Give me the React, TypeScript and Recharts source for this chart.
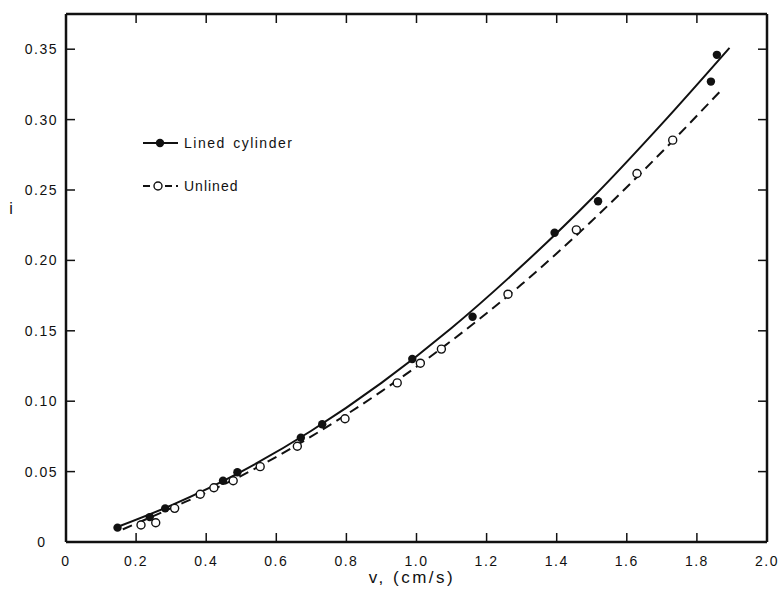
import React from 'react';
import { ComposedChart, Line, Scatter, XAxis, YAxis } from 'recharts';

// ---- tick values & labels ----
const xTicks = [0, 0.2, 0.4, 0.6, 0.8, 1.0, 1.2, 1.4, 1.6, 1.8, 2.0];
const xTickLabels = ['0', '0.2', '0.4', '0.6', '0.8', '1.0', '1.2', '1.4', '1.6', '1.8', '2.0'];
const yTicks = [0, 0.05, 0.1, 0.15, 0.2, 0.25, 0.3, 0.35];
const yTickLabels = ['0', '0.05', '0.10', '0.15', '0.20', '0.25', '0.30', '0.35'];

// ---- measured points: lined cylinder (filled) ----
const linedV = [0.147, 0.239, 0.283, 0.448, 0.489, 0.670, 0.731, 0.988, 1.160, 1.394, 1.518, 1.840, 1.857];
const linedI = [0.0102, 0.0177, 0.0239, 0.0435, 0.0495, 0.074, 0.0836, 0.130, 0.160, 0.2196, 0.242, 0.327, 0.346];

// ---- measured points: unlined (open) ----
const unlinedV = [0.214, 0.256, 0.310, 0.383, 0.422, 0.477, 0.554, 0.660, 0.796, 0.945, 1.011, 1.071, 1.261, 1.456, 1.629, 1.731];
const unlinedI = [0.0121, 0.0137, 0.0239, 0.0339, 0.0385, 0.0435, 0.0535, 0.068, 0.0875, 0.113, 0.127, 0.137, 0.176, 0.2217, 0.2617, 0.2854];

// ---- fitted curves ----
const linedCurveV = [0.15, 0.3, 0.5, 0.7, 0.9, 1.1, 1.3, 1.5, 1.7, 1.893];
const linedCurveI = [0.011, 0.026, 0.050, 0.079, 0.113, 0.152, 0.196, 0.244, 0.297, 0.351];
const unlinedCurveV = [0.162, 0.3, 0.5, 0.7, 0.9, 1.1, 1.3, 1.5, 1.7, 1.866];
const unlinedCurveI = [0.009, 0.024, 0.047, 0.075, 0.107, 0.143, 0.183, 0.228, 0.277, 0.320];

const zip = (vs: number[], is: number[]) => vs.map((v, k) => ({ v, i: is[k] }));
const linedPts = zip(linedV, linedI);
const unlinedPts = zip(unlinedV, unlinedI);
const linedCurve = zip(linedCurveV, linedCurveI);
const unlinedCurve = zip(unlinedCurveV, unlinedCurveI);

const FONT = '"Liberation Sans", Arial, sans-serif';
const INK = '#111';

const BottomTick = (p: any) => {
  const idx = xTicks.indexOf(p.payload.value);
  return (
    <g>
      <line x1={p.x} y1={p.y} x2={p.x} y2={p.y - 9} stroke={INK} strokeWidth={1.5} />
      <text x={p.x} y={p.y + 19} textAnchor="middle" dominantBaseline="central"
        fontFamily={FONT} fontSize={14} letterSpacing={1.5} fill={INK}>
        {xTickLabels[idx]}
      </text>
    </g>
  );
};
const TopTick = (p: any) => (
  <line x1={p.x} y1={p.y} x2={p.x} y2={p.y + 9} stroke={INK} strokeWidth={1.5} />
);
const LeftTick = (p: any) => {
  const idx = yTicks.indexOf(p.payload.value);
  const isZero = p.payload.value === 0;
  return (
    <g>
      <line x1={p.x} y1={p.y} x2={p.x + 9} y2={p.y} stroke={INK} strokeWidth={1.5} />
      <text x={isZero ? p.x - 24 : p.x - 8} y={p.y} textAnchor={isZero ? 'middle' : 'end'}
        dominantBaseline="central" fontFamily={FONT} fontSize={14} letterSpacing={1.5} fill={INK}>
        {yTickLabels[idx]}
      </text>
    </g>
  );
};
const RightTick = (p: any) => (
  <line x1={p.x} y1={p.y} x2={p.x - 9} y2={p.y} stroke={INK} strokeWidth={1.5} />
);

const FilledDot = (p: any) => <circle cx={p.cx} cy={p.cy} r={4.2} fill={INK} />;
const OpenDot = (p: any) => (
  <circle cx={p.cx} cy={p.cy} r={4} fill="#fff" stroke={INK} strokeWidth={1.4} />
);

export default function App() {
  return (
    <div style={{ position: 'absolute', left: 0, top: 0, width: 778, height: 591, background: '#fff' }}>
      <ComposedChart width={778} height={591} margin={{ top: 13, right: 10, bottom: 48, left: 65 }}>
        <XAxis xAxisId="b" type="number" dataKey="v" domain={[0, 2]} ticks={xTicks} interval={0}
          orientation="bottom" height={1} tickSize={0} tickMargin={0} tickLine={false}
          tick={BottomTick} axisLine={{ stroke: INK, strokeWidth: 2.5 }} allowDataOverflow />
        <XAxis xAxisId="t" type="number" dataKey="v" domain={[0, 2]} ticks={xTicks.slice(1, 10)} interval={0}
          orientation="top" height={1} tickSize={0} tickMargin={0} tickLine={false}
          tick={TopTick} axisLine={{ stroke: INK, strokeWidth: 2.5 }} allowDataOverflow />
        <YAxis yAxisId="l" type="number" dataKey="i" domain={[0, 0.375]} ticks={yTicks} interval={0}
          orientation="left" width={1} tickSize={0} tickMargin={0} tickLine={false}
          tick={LeftTick} axisLine={{ stroke: INK, strokeWidth: 2.5 }} allowDataOverflow />
        <YAxis yAxisId="r" type="number" dataKey="i" domain={[0, 0.375]} ticks={yTicks.slice(1)} interval={0}
          orientation="right" width={1} tickSize={0} tickMargin={0} tickLine={false}
          tick={RightTick} axisLine={{ stroke: INK, strokeWidth: 2.5 }} allowDataOverflow />

        <Line xAxisId="b" yAxisId="l" data={linedCurve} dataKey="i" type="monotone" stroke={INK}
          strokeWidth={2} dot={false} activeDot={false} isAnimationActive={false} />
        <Line xAxisId="b" yAxisId="l" data={unlinedCurve} dataKey="i" type="monotone" stroke={INK}
          strokeWidth={2} strokeDasharray="10 6" dot={false} activeDot={false} isAnimationActive={false} />
        <Scatter xAxisId="b" yAxisId="l" data={unlinedPts} dataKey="i" shape={OpenDot} isAnimationActive={false} />
        <Scatter xAxisId="b" yAxisId="l" data={linedPts} dataKey="i" shape={FilledDot} isAnimationActive={false} />
      </ComposedChart>

      <svg width={778} height={591} style={{ position: 'absolute', left: 0, top: 0, pointerEvents: 'none' }}>
        {/* legend */}
        <line x1={143} y1={143} x2={178} y2={143} stroke={INK} strokeWidth={2} />
        <circle cx={160} cy={143} r={4.2} fill={INK} />
        <text x={184} y={143} dominantBaseline="central" fontFamily={FONT} fontSize={14}
          letterSpacing={1.5} wordSpacing={2} fill={INK}>Lined cylinder</text>
        <line x1={143} y1={186} x2={178} y2={186} stroke={INK} strokeWidth={2} strokeDasharray="7 4" />
        <circle cx={158} cy={186} r={4} fill="#fff" stroke={INK} strokeWidth={1.4} />
        <text x={184} y={186} dominantBaseline="central" fontFamily={FONT} fontSize={14}
          letterSpacing={1} fill={INK}>Unlined</text>
        {/* axis titles */}
        <text x={11} y={208} textAnchor="middle" dominantBaseline="central" fontFamily={FONT}
          fontSize={16} fill={INK}>i</text>
        <text x={412} y={577} textAnchor="middle" dominantBaseline="central" fontFamily={FONT}
          fontSize={17} letterSpacing={2.5} fill={INK}>v, (cm/s)</text>
      </svg>
    </div>
  );
}
